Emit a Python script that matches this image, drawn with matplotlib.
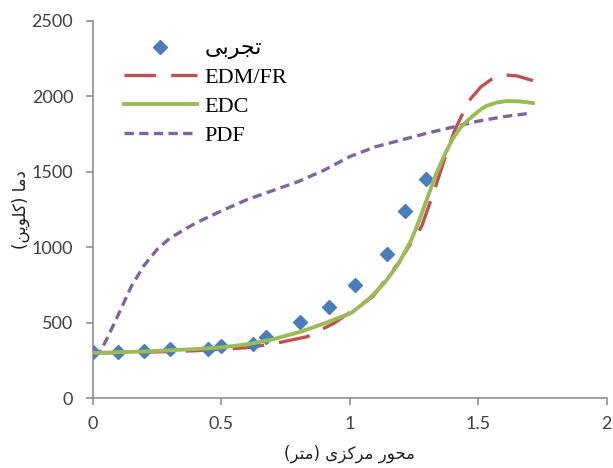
import matplotlib
matplotlib.use("Agg")
import matplotlib.pyplot as plt

# ---- data ----
exp_x = [0.0, 0.10, 0.20, 0.30, 0.45, 0.50, 0.625, 0.675, 0.805, 0.92, 1.02, 1.147, 1.215, 1.297]
exp_y = [305, 308, 315, 324, 326, 346, 357, 404, 507, 606, 750, 955, 1242, 1450]

edm_x = [0.0, 0.2, 0.4, 0.6, 0.7, 0.835, 0.94, 1.09, 1.19, 1.28, 1.33, 1.38, 1.41, 1.464, 1.51, 1.55, 1.595, 1.65, 1.713]
edm_y = [300, 305, 315, 335, 360, 408, 498, 674, 897, 1139, 1380, 1640, 1780, 1970, 2061, 2110, 2141, 2135, 2103]

edc_x = [0.0, 0.1, 0.2, 0.3, 0.4, 0.5, 0.6, 0.7, 0.81, 0.9, 1.006, 1.07, 1.136, 1.19, 1.24, 1.27, 1.30, 1.335, 1.37, 1.40, 1.43, 1.464, 1.50, 1.53, 1.57, 1.61, 1.66, 1.713]
edc_y = [300, 305, 310, 318, 326, 337, 357, 390, 441, 495, 565, 650, 765, 890, 1050, 1175, 1316, 1480, 1615, 1715, 1790, 1848, 1900, 1935, 1957, 1968, 1966, 1955]

pdf_x = [0.0, 0.03, 0.06, 0.10, 0.15, 0.20, 0.25, 0.30, 0.40, 0.50, 0.60, 0.70, 0.80, 0.90, 1.00, 1.10, 1.20, 1.30, 1.40, 1.50, 1.60, 1.70]
pdf_y = [300, 310, 410, 555, 740, 880, 985, 1060, 1160, 1240, 1315, 1375, 1435, 1510, 1600, 1665, 1710, 1755, 1795, 1835, 1865, 1887]

xticks = [0, 0.5, 1, 1.5, 2]
xtick_labels = ["0", "0.5", "1", "1.5", "2"]
yticks = [0, 500, 1000, 1500, 2000, 2500]
ytick_labels = ["0", "500", "1000", "1500", "2000", "2500"]

# Persian texts in visual order with presentation forms (no shaping engine in matplotlib)
lbl_exp = "\uFBFD\uFE91\uFEAE\uFEA0\uFE97"                       # تجربی
ylabel = "(\uFEE6\uFBFE\uFEEE\uFEE0\uFB90) \uFE8E\uFEE3\uFEA9"    # دما (کلوین)
xlabel = ("(\uFEAE\uFE98\uFEE3) \uFBFC\uFEB0\uFB90\uFEAE\uFEE3 "
          "\uFEAD\uFEEE\uFEA4\uFEE3")                              # محور مرکزی (متر)

fig = plt.figure(figsize=(6.13, 4.68), dpi=100)
ax = fig.add_axes([92.7 / 613, (468 - 398.3) / 468, 514 / 613, 377.6 / 468])

blue = "#4A7EBB"
red = "#C0504D"
green = "#9BBB59"
purple = "#8064A2"

ax.plot(exp_x, exp_y, linestyle="none", marker="D", markersize=7.5,
        color=blue, label=lbl_exp, zorder=3)
l_edm, = ax.plot(edm_x, edm_y, color=red, lw=2.4, label="EDM/FR", zorder=2)
l_edm.set_dashes([9.5, 4.5])
ax.plot(edc_x, edc_y, color=green, lw=2.8, label="EDC", zorder=4)
l_pdf, = ax.plot(pdf_x, pdf_y, color=purple, lw=2.4, label="PDF", zorder=2)
l_pdf.set_dashes([2.8, 1.6])

ax.set_xlim(0, 2)
ax.set_ylim(0, 2500)
ax.set_xticks(xticks)
ax.set_xticklabels(xtick_labels)
ax.set_yticks(yticks)
ax.set_yticklabels(ytick_labels)

for s in ["top", "right"]:
    ax.spines[s].set_visible(False)
for s in ["left", "bottom"]:
    ax.spines[s].set_color("#868686")
    ax.spines[s].set_linewidth(1.1)

ax.tick_params(axis="both", direction="out", length=5, width=1.1, color="#868686",
               labelcolor="#404040", labelsize=13)
ax.tick_params(axis="y", pad=9)
ax.tick_params(axis="x", pad=8)
for t in ax.get_xticklabels() + ax.get_yticklabels():
    t.set_family("Lato")

ax.set_xlabel(xlabel, family=["DejaVu Sans"], fontsize=12, color="#202020")
ax.set_ylabel(ylabel, family=["DejaVu Sans"], fontsize=12, color="#202020")
ax.xaxis.set_label_coords(0.5, -0.124)
ax.yaxis.set_label_coords(-0.122, 0.5)

leg = ax.legend(loc="upper left", bbox_to_anchor=(0.03, 0.993), frameon=False,
                prop={"family": ["Liberation Serif", "DejaVu Sans"], "size": 16},
                handlelength=3.3, handletextpad=0.35, labelspacing=0.37,
                borderpad=0.2, numpoints=1)

fig.savefig("out.png", dpi=100)
